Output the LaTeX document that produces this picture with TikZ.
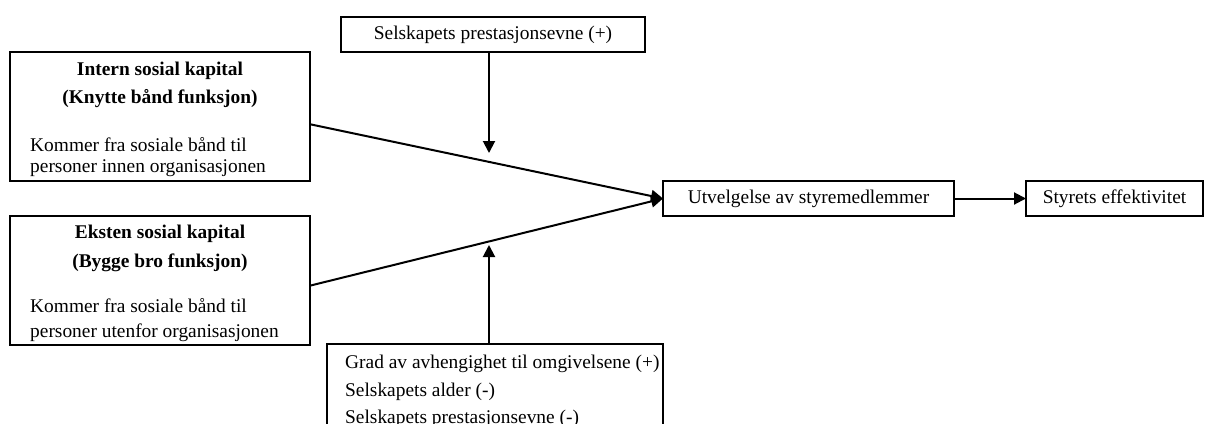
\documentclass[tikz,border=0pt]{standalone}
\usepackage{fontspec}
\setmainfont{Liberation Serif}
\usetikzlibrary{arrows.meta,calc}
\tikzset{
  box/.style={draw,line width=2pt,inner sep=0pt,outer sep=0pt,anchor=north west},
  onebox/.style={box,text height=13.5pt,text depth=4.5pt},
  lbl/.style={inner sep=0pt,anchor=base},
  lblw/.style={inner sep=0pt,anchor=base west},
  conn/.style={line width=2pt,-{Triangle[width=12pt,length=12pt]}},
}
\begin{document}
\begin{tikzpicture}[x=1pt,y=-1pt,font=\fontsize{19.4}{22}\selectfont]
\useasboundingbox (0,0) rectangle (1206,423);
\clip (0,0) rectangle (1206,423);

% boxes
\node[box,minimum width=300pt,minimum height=129pt] (ik) at (10,52) {};
\node[box,minimum width=300pt,minimum height=129pt] (ek) at (10,216) {};
\node[onebox,minimum width=304pt,minimum height=35pt] (pr) at (341,17) {Selskapets prestasjonsevne (+)};
\node[box,minimum width=336pt,minimum height=120pt] (gr) at (327,344) {};
\node[onebox,minimum width=291pt,minimum height=35pt] (ut) at (663,181) {Utvelgelse av styremedlemmer};
\node[onebox,minimum width=177pt,minimum height=35pt] (se) at (1026,181) {Styrets effektivitet};

% texts in left boxes
\node[lbl,font=\fontsize{19.4}{22}\selectfont\bfseries] (ik1) at (160,75) {Intern sosial kapital};
\node[lbl,font=\fontsize{19.4}{22}\selectfont\bfseries] (ik2) at (160,103) {(Knytte bånd funksjon)};
\node[lblw] (ik3) at (30,151) {Kommer fra sosiale bånd til};
\node[lblw] (ik4) at (30,172) {personer innen organisasjonen};

\node[lbl,font=\fontsize{19.4}{22}\selectfont\bfseries] (ek1) at (160,238) {Eksten sosial kapital};
\node[lbl,font=\fontsize{19.4}{22}\selectfont\bfseries] (ek2) at (160,267) {(Bygge bro funksjon)};
\node[lblw] (ek3) at (30,312) {Kommer fra sosiale bånd til};
\node[lblw] (ek4) at (30,337) {personer utenfor organisasjonen};

% bottom box text
\node[lblw] (gr1) at (345,368) {Grad av avhengighet til omgivelsene (+)};
\node[lblw] (gr2) at (345,396) {Selskapets alder (-)};
\node[lblw] (gr3) at (345,423) {Selskapets prestasjonsevne (-)};

% connectors
\draw[conn] ($(ik.north east)!0.56!(ik.south east)$) -- (ut.west);
\draw[conn] ($(ek.north east)!0.54!(ek.south east)$) -- (ut.west);
\coordinate (prtip) at (489,153);
\draw[conn] (pr.south -| prtip) -- (prtip);
\coordinate (grtip) at (489,245);
\draw[conn] (gr.north -| grtip) -- (grtip);
\draw[conn] (ut) -- (se);
\end{tikzpicture}
\end{document}
